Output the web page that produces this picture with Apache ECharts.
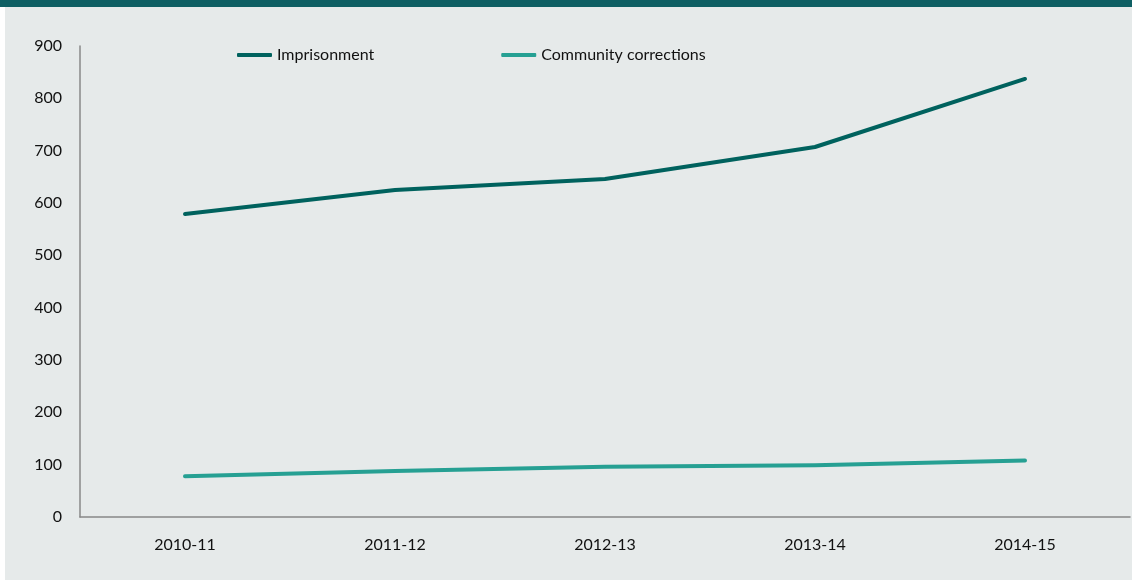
<!DOCTYPE html>
<html>
<head>
<meta charset="utf-8">
<script src="https://cdn.jsdelivr.net/npm/echarts@6/dist/echarts.min.js"></script>
<style>
html, body { margin: 0; padding: 0; background: #ffffff; }
#main { width: 1132px; height: 581px; }
</style>
</head>
<body>
<div id="main"></div>
<script>
var years = ['2010-11', '2011-12', '2012-13', '2013-14', '2014-15'];
var imprisonment = [579, 625, 646, 707, 837];
var community = [78, 88, 96, 99, 108];

var myChart = echarts.init(document.getElementById('main'));
var font = 'Lato, "Open Sans", sans-serif';

var option = {
    animation: false,
    graphic: [
        { type: 'rect', shape: { x: 5, y: 0, width: 1127, height: 580 }, style: { fill: '#e6eaea' }, z: -10 },
        { type: 'rect', shape: { x: 0, y: 0, width: 1132, height: 7 }, style: { fill: '#0e5f63' }, z: -9 }
    ],
    legend: {
        left: 232,
        top: 42,
        itemWidth: 35,
        itemHeight: 4,
        itemGap: 127,
        icon: 'roundRect',
        textStyle: { fontFamily: font, fontSize: 16, color: '#111' },
        data: ['Imprisonment', 'Community corrections']
    },
    grid: { left: 80, right: 2, top: 46, bottom: 64, containLabel: false },
    xAxis: {
        type: 'category',
        data: years,
        boundaryGap: true,
        axisLine: { lineStyle: { color: '#888', width: 1.5 } },
        axisTick: { show: false },
        axisLabel: { fontFamily: font, fontSize: 16, color: '#111', margin: 20 }
    },
    yAxis: {
        type: 'value',
        min: 0,
        max: 900,
        interval: 100,
        axisLine: { show: true, lineStyle: { color: '#888', width: 1.5 } },
        axisTick: { show: false },
        splitLine: { show: false },
        axisLabel: { fontFamily: font, fontSize: 16, color: '#111', margin: 18 }
    },
    series: [
        {
            name: 'Imprisonment',
            type: 'line',
            data: imprisonment,
            symbol: 'none',
            color: '#00625e',
            lineStyle: { width: 4, cap: 'round', join: 'round' }
        },
        {
            name: 'Community corrections',
            type: 'line',
            data: community,
            symbol: 'none',
            color: '#26a093',
            lineStyle: { width: 4, cap: 'round', join: 'round' }
        }
    ]
};

myChart.setOption(option);
</script>
</body>
</html>
